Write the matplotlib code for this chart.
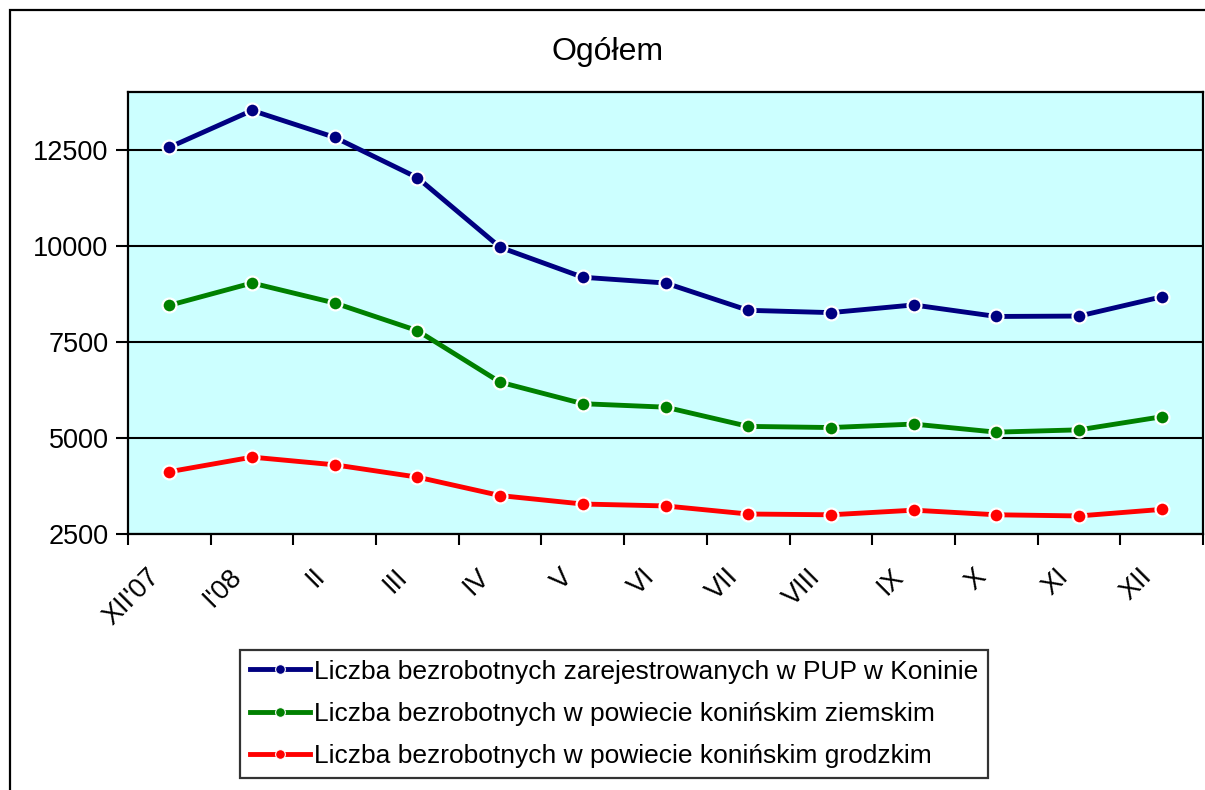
import matplotlib.pyplot as plt
from matplotlib.lines import Line2D
from matplotlib.patches import Rectangle
import matplotlib.transforms as mtransforms

plt.rcParams['font.family'] = ['Liberation Sans', 'DejaVu Sans']

""" DATA """
months = ["XII'07", "I'08", "II", "III", "IV", "V", "VI", "VII", "VIII", "IX", "X", "XI", "XII"]
pup_konin = [12560, 13520, 12820, 11770, 9960, 9180, 9030, 8320, 8260, 8460, 8160, 8170, 8670]
powiat_ziemski = [8450, 9030, 8510, 7790, 6450, 5890, 5800, 5300, 5270, 5360, 5150, 5210, 5550]
powiat_grodzki = [4120, 4500, 4300, 3980, 3500, 3280, 3230, 3020, 3000, 3120, 3000, 2970, 3140]

series_labels = [
    "Liczba bezrobotnych zarejestrowanych w PUP w Koninie",
    "Liczba bezrobotnych w powiecie konińskim ziemskim",
    "Liczba bezrobotnych w powiecie konińskim grodzkim",
]
series_colors = ["#000080", "#008000", "#FF0000"]
y_ticks = [2500, 5000, 7500, 10000, 12500]

""" FIGURE """
W, H = 1205, 790
fig = plt.figure(figsize=(W / 100, H / 100), dpi=100)

# outer chart frame (cut off at right and bottom like the original)
fig.patches.append(Rectangle((10 / W, -0.05), 1.1, 1 - 10 / H + 0.05,
                             transform=fig.transFigure, fill=False,
                             edgecolor='black', linewidth=1.6))

ax = fig.add_axes([128 / W, 1 - 534 / H, (1203 - 128) / W, (534 - 92) / H])
ax.set_facecolor('#CCFFFF')

x = list(range(len(months)))
for vals, col in zip([pup_konin, powiat_ziemski, powiat_grodzki], series_colors):
    ax.plot(x, vals, color=col, linewidth=3.5, marker='o', markersize=10,
            markerfacecolor=col, markeredgecolor='white', markeredgewidth=1.6,
            zorder=3, clip_on=False)

ax.set_xlim(-0.5, len(months) - 0.5)
ax.set_ylim(2500, 14000)
ax.set_yticks(y_ticks)
ax.set_yticklabels([str(v) for v in y_ticks], fontsize=19.5)
ax.yaxis.grid(True, color='black', linewidth=1.5)
ax.set_axisbelow(True)

# tick marks between categories, labels at category centres
ax.set_xticks([i - 0.5 for i in range(len(months) + 1)])
ax.set_xticklabels([])
ax.set_xticks(x, minor=True)
ax.set_xticklabels(months, minor=True, fontsize=19.5, rotation=45,
                   ha='right', va='center', rotation_mode='anchor')
ax.tick_params(axis='x', which='major', length=8, width=1.5, direction='out')
ax.tick_params(axis='x', which='minor', length=0, pad=28)
ax.tick_params(axis='y', length=9, width=1.5, pad=5)
offset = mtransforms.ScaledTranslation(-14 / 100, 0, fig.dpi_scale_trans)
for lab in ax.get_xticklabels(minor=True):
    lab.set_transform(lab.get_transform() + offset)

for s in ax.spines.values():
    s.set_linewidth(1.6)
    s.set_color('black')

fig.text(608 / W, 1 - 52 / H, "Ogółem", fontsize=23, ha='center', va='center')

# legend: thick line with a small dot in the middle
handles = [Line2D([0], [0], color=c, linewidth=3.5, marker='o', markersize=7,
                  markerfacecolor=c, markeredgecolor='white', markeredgewidth=0.8)
           for c in series_colors]
leg = fig.legend(handles, series_labels, loc='center',
                 bbox_to_anchor=(614 / W, 1 - 714 / H), fontsize=19,
                 frameon=True, fancybox=False, edgecolor='black',
                 handlelength=2.3, handletextpad=0.15, labelspacing=0.7,
                 borderpad=0.35, borderaxespad=0)
leg.get_frame().set_linewidth(1.6)

fig.savefig("out.png", dpi=100)
